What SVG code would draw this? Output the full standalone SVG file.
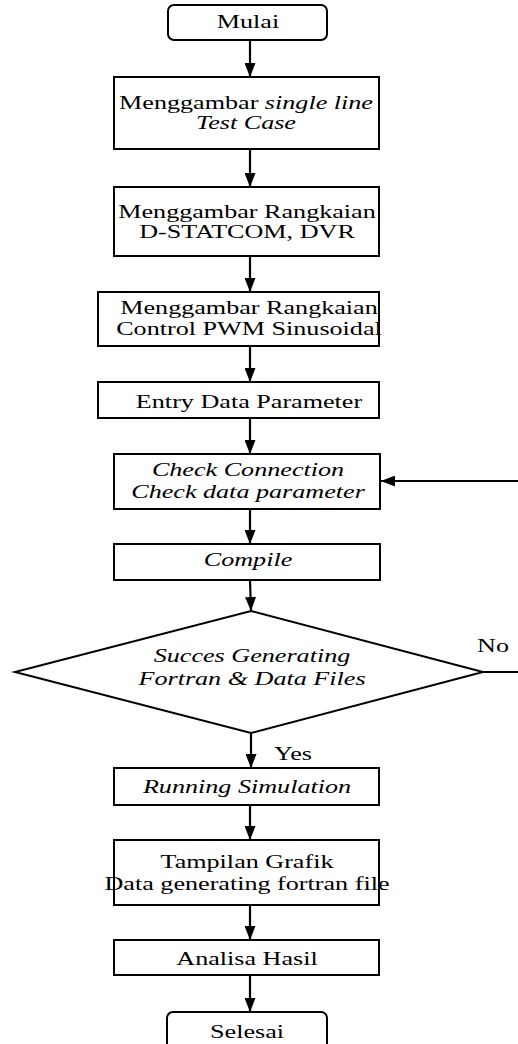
<svg xmlns="http://www.w3.org/2000/svg" width="518" height="1044" viewBox="0 0 518 1044">
<defs>
<marker id="ah" viewBox="0 0 14 11" refX="14" refY="5.5" markerWidth="14" markerHeight="11" markerUnits="userSpaceOnUse" orient="auto">
<path d="M0,0 L14,5.5 L0,11 Z" fill="#000"/>
</marker>
<style>
.b{fill:#fff;stroke:#000;stroke-width:2}
.c{fill:none;stroke:#000;stroke-width:2.2}
.t{font-family:"Liberation Serif","Times New Roman",serif;font-size:19.5px;fill:#000;text-anchor:middle}
.i{font-style:italic}
</style>
</defs>
<rect width="518" height="1044" fill="#fff"/>
<g id="connectors">
<line class="c" x1="250" y1="40" x2="250" y2="77" marker-end="url(#ah)"/>
<line class="c" x1="250" y1="149" x2="250" y2="187" marker-end="url(#ah)"/>
<line class="c" x1="250" y1="256" x2="250" y2="292" marker-end="url(#ah)"/>
<line class="c" x1="250" y1="346" x2="250" y2="382" marker-end="url(#ah)"/>
<line class="c" x1="250" y1="418" x2="250" y2="454" marker-end="url(#ah)"/>
<line class="c" x1="250" y1="509" x2="250" y2="544" marker-end="url(#ah)"/>
<line class="c" x1="250" y1="580" x2="251" y2="611" marker-end="url(#ah)"/>
<line class="c" x1="251" y1="733" x2="251" y2="768" marker-end="url(#ah)"/>
<line class="c" x1="250" y1="805" x2="250" y2="840" marker-end="url(#ah)"/>
<line class="c" x1="250" y1="905" x2="250" y2="940" marker-end="url(#ah)"/>
<line class="c" x1="250" y1="975" x2="250" y2="1012" marker-end="url(#ah)"/>
<line class="c" x1="483" y1="672" x2="518" y2="672"/>
<line class="c" x1="518" y1="481" x2="381" y2="481" marker-end="url(#ah)"/>
<text class="t" transform="translate(493 652) scale(1.34 1)">No</text>
<text class="t" transform="translate(293 760) scale(1.34 1)">Yes</text>
</g>
<g id="mulai">
<rect class="b" x="168" y="5" width="159" height="35" rx="6"/>
<text class="t" transform="translate(248 28) scale(1.34 1)">Mulai</text>
</g>
<g id="single-line">
<rect class="b" x="114" y="77" width="265" height="72"/>
<text class="t" transform="translate(246 109) scale(1.34 1)">Menggambar <tspan class="i">single line</tspan></text>
<text class="t i" transform="translate(246 129) scale(1.34 1)">Test Case</text>
</g>
<g id="dstatcom">
<rect class="b" x="114" y="187" width="265" height="69"/>
<text class="t" transform="translate(247 218) scale(1.34 1)">Menggambar Rangkaian</text>
<text class="t" transform="translate(247 238) scale(1.34 1)">D-STATCOM, DVR</text>
</g>
<g id="pwm">
<rect class="b" x="98" y="292" width="281" height="54"/>
<text class="t" transform="translate(249 314) scale(1.34 1)">Menggambar Rangkaian</text>
<text class="t" transform="translate(249 335) scale(1.34 1)">Control PWM Sinusoidal</text>
</g>
<g id="entry">
<rect class="b" x="98" y="382" width="281" height="36"/>
<text class="t" transform="translate(249 408) scale(1.34 1)">Entry Data Parameter</text>
</g>
<g id="check">
<rect class="b" x="114" y="454" width="266" height="55"/>
<text class="t i" transform="translate(248 476) scale(1.34 1)">Check Connection</text>
<text class="t i" transform="translate(248 498) scale(1.34 1)">Check data parameter</text>
</g>
<g id="compile">
<rect class="b" x="114" y="544" width="266" height="36"/>
<text class="t i" transform="translate(248 566) scale(1.34 1)">Compile</text>
</g>
<g id="decision">
<polygon class="b" points="251,611 483,672 251,733 15,672"/>
<text class="t i" transform="translate(252 662) scale(1.34 1)">Succes Generating</text>
<text class="t i" transform="translate(252 685) scale(1.34 1)">Fortran &amp; Data Files</text>
</g>
<g id="running">
<rect class="b" x="114" y="768" width="265" height="37"/>
<text class="t i" transform="translate(247 793) scale(1.34 1)">Running Simulation</text>
</g>
<g id="grafik">
<rect class="b" x="114" y="840" width="265" height="65"/>
<text class="t" transform="translate(247 868) scale(1.34 1)">Tampilan Grafik</text>
<text class="t" transform="translate(247 890) scale(1.34 1)">Data generating fortran file</text>
</g>
<g id="analisa">
<rect class="b" x="114" y="940" width="265" height="35"/>
<text class="t" transform="translate(247 965) scale(1.34 1)">Analisa Hasil</text>
</g>
<g id="selesai">
<rect class="b" x="167" y="1012" width="160" height="40" rx="6"/>
<text class="t" transform="translate(247 1038) scale(1.34 1)">Selesai</text>
</g>
</svg>
